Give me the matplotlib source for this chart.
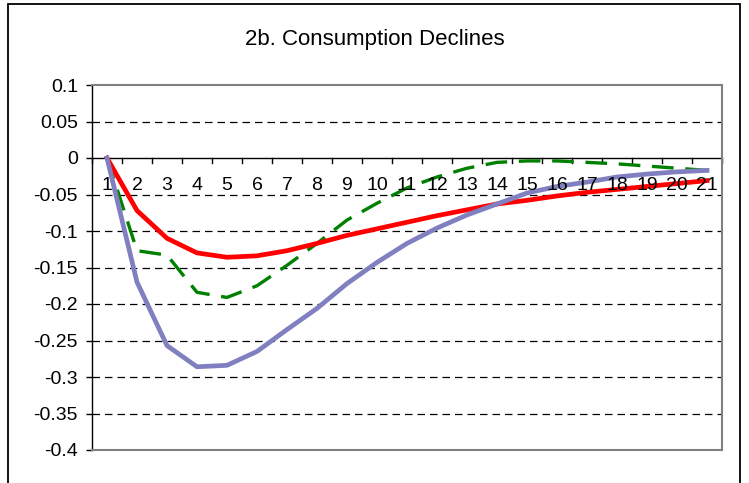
import matplotlib
matplotlib.use("Agg")
import matplotlib.pyplot as plt
from matplotlib.patches import Rectangle
import numpy as np

periods = list(range(1, 22))
red_series = [0, -0.072, -0.110, -0.130, -0.136, -0.134, -0.127, -0.117, -0.106, -0.097,
              -0.088, -0.079, -0.071, -0.063, -0.058, -0.052, -0.047, -0.043, -0.039, -0.035, -0.031]
green_series = [0, -0.127, -0.133, -0.184, -0.191, -0.175, -0.147, -0.117, -0.085, -0.062,
                -0.041, -0.026, -0.014, -0.006, -0.004, -0.004, -0.006, -0.008, -0.011, -0.014, -0.017]
purple_series = [0, -0.170, -0.257, -0.286, -0.284, -0.265, -0.235, -0.206, -0.172, -0.143,
                 -0.117, -0.096, -0.078, -0.063, -0.048, -0.039, -0.033, -0.026, -0.022, -0.019, -0.017]
y_ticks = [0.1, 0.05, 0, -0.05, -0.1, -0.15, -0.2, -0.25, -0.3, -0.35, -0.4]
y_labels = ["0.1", "0.05", "0", "-0.05", "-0.1", "-0.15", "-0.2", "-0.25", "-0.3", "-0.35", "-0.4"]
title = "2b. Consumption Declines"

plt.rcParams['font.family'] = ['Liberation Sans', 'DejaVu Sans']

W, H = 749, 483
fig = plt.figure(figsize=(W / 100, H / 100), dpi=100)

# outer chart border
fig.patches.append(Rectangle((8 / W, -0.01), (740 - 8) / W, 1 - 4 / H + 0.01,
                             transform=fig.transFigure, fill=False, edgecolor='black', linewidth=1.3))

left, right, top, bottom = 92, 722, 85, 450
ax = fig.add_axes([left / W, 1 - bottom / H, (right - left) / W, (bottom - top) / H])
ax.set_xlim(0.5, 21.5)
ax.set_ylim(-0.4, 0.1)

for v in y_ticks:
    if v not in (0, 0.1, -0.4):
        ax.axhline(v, color='black', linestyle=(0, (6, 4)), linewidth=0.9, zorder=1)
ax.axhline(0, color='black', linewidth=1.0, zorder=2)

ax.plot(periods, green_series, color='#008000', linewidth=2.4, linestyle=(0, (6.5, 3.5)), zorder=3)
ax.plot(periods, red_series, color='#FF0000', linewidth=3.4, zorder=4, solid_joinstyle='round')
ax.plot(periods, purple_series, color='#8080C0', linewidth=3.4, zorder=5)

# spines
for s in ('top', 'right', 'bottom'):
    ax.spines[s].set_color('#808080')
    ax.spines[s].set_linewidth(1.5)
ax.spines['left'].set_color('black')
ax.spines['left'].set_linewidth(1.0)

ax.set_yticks(y_ticks)
ax.set_yticklabels(y_labels, fontsize=14)
ax.tick_params(axis='y', direction='out', length=4, width=1, pad=6)

# x axis at zero: ticks at category boundaries, labels at centers
ax.set_xticks([])
ax.tick_params(axis='x', which='both', bottom=False, labelbottom=False)
for b in np.arange(0.5, 22, 1.0):
    ax.plot([b, b], [0, -0.007], color='black', linewidth=1.0, zorder=2, clip_on=False)
for p in periods:
    ax.text(p, -0.038, str(p), ha='center', va='center', fontsize=14, zorder=6)

fig.text(375 / W, 1 - 40 / H, title, ha='center', va='center', fontsize=16)

fig.savefig('out.png', dpi=100)
